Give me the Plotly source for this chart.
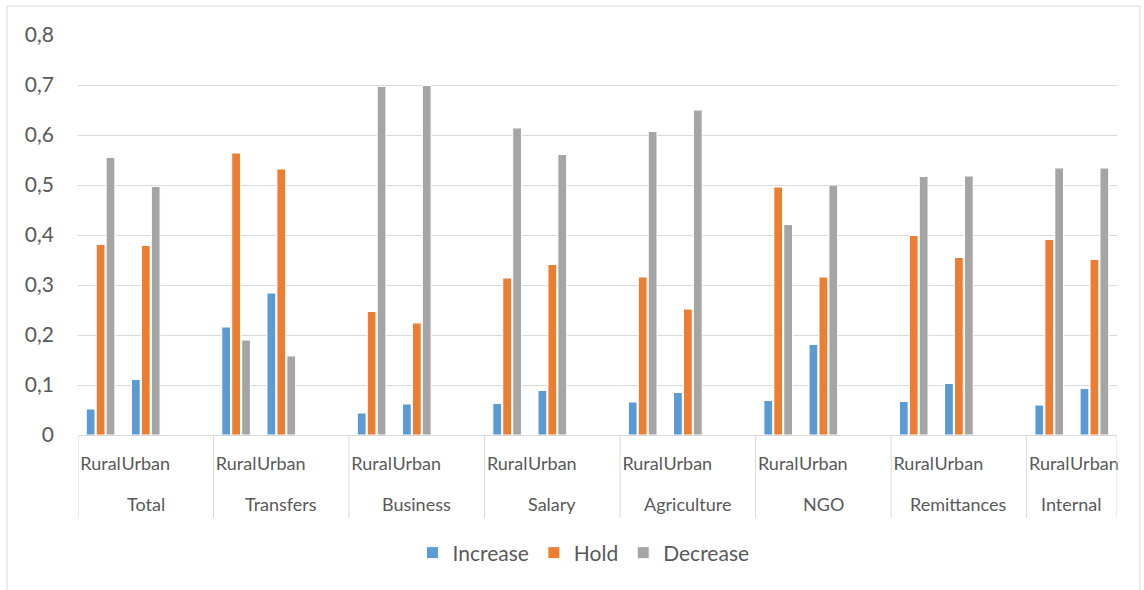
import plotly.graph_objects as go

# Income sources, each split into Rural / Urban
groups = ["Total", "Transfers", "Business", "Salary", "Agriculture", "NGO", "Remittances", "Internal"]
areas = ["Rural", "Urban"]

increase_rural = [0.052, 0.216, 0.044, 0.063, 0.066, 0.069, 0.067, 0.060]
increase_urban = [0.111, 0.284, 0.062, 0.089, 0.085, 0.181, 0.103, 0.093]
hold_rural = [0.381, 0.564, 0.247, 0.314, 0.316, 0.496, 0.399, 0.391]
hold_urban = [0.379, 0.532, 0.224, 0.341, 0.252, 0.316, 0.355, 0.351]
decrease_rural = [0.555, 0.190, 0.697, 0.614, 0.607, 0.421, 0.517, 0.534]
decrease_urban = [0.497, 0.158, 0.699, 0.561, 0.650, 0.500, 0.518, 0.534]

series = [
    ("Increase", increase_rural, increase_urban, "#5B9BD5"),
    ("Hold", hold_rural, hold_urban, "#ED7D31"),
    ("Decrease", decrease_rural, decrease_urban, "#A5A5A5"),
]

# Category slots: Rural, Urban and an empty spacer after every group but the last
cats, tick_text, group_span = [], [], []
for i, g in enumerate(groups):
    start = len(cats)
    slots = areas + (["gap"] if i < len(groups) - 1 else [])
    for s in slots:
        cats.append(f"{g}|{s}")
        tick_text.append(s if s != "gap" else "")
    group_span.append((start - 0.5, len(cats) - 0.5))


def build(rural, urban):
    ys = []
    for i in range(len(groups)):
        ys += [rural[i], urban[i]]
        if i < len(groups) - 1:
            ys.append(None)
    return ys


font_family = "Lato, 'Open Sans', sans-serif"
text_color = "#595959"
rule_color = "#d9d9d9"

fig = go.Figure()
for name, r, u, color in series:
    fig.add_trace(go.Bar(
        name=name,
        x=cats,
        y=build(r, u),
        marker=dict(color=color, line=dict(color="white", width=1)),
    ))

# Group names under the Rural/Urban row, with dividers between groups
annotations = []
shapes = []
for g, (a, b) in zip(groups, group_span):
    annotations.append(dict(
        x=(a + b) / 2, xref="x", y=-0.1725, yref="paper",
        text=g, showarrow=False, xanchor="center", yanchor="middle",
        font=dict(size=18, color=text_color, family=font_family),
    ))
edges = sorted({e for span in group_span for e in span})
for e in edges:
    shapes.append(dict(
        type="line", xref="x", yref="paper",
        x0=e, x1=e, y0=0, y1=-0.2075,
        line=dict(color=rule_color, width=1),
    ))

# Light frame around the whole chart
shapes.append(dict(
    type="rect", xref="paper", yref="paper",
    x0=-0.0683, x1=1.022, y0=-0.42, y1=1.0725,
    line=dict(color=rule_color, width=1),
    fillcolor="rgba(0,0,0,0)",
    layer="below",
))

fig.update_layout(
    width=1144,
    height=590,
    paper_bgcolor="white",
    plot_bgcolor="white",
    separators=", ",
    barmode="group",
    bargap=0.34,
    bargroupgap=0.12,
    margin=dict(l=78, r=27, t=35, b=155),
    font=dict(family=font_family, color=text_color, size=18),
    showlegend=True,
    legend=dict(
        orientation="h",
        x=0.4865, xanchor="center",
        y=-0.295, yanchor="middle",
        font=dict(size=21, color=text_color),
        itemwidth=30,
    ),
    xaxis=dict(
        type="category",
        categoryorder="array",
        categoryarray=cats,
        tickvals=cats,
        ticktext=tick_text,
        range=[-0.5, len(cats) - 0.5],
        showgrid=False,
        showline=True,
        linecolor=rule_color,
        linewidth=1,
        ticks="",
        tickangle=0,
        ticklabelstandoff=12,
        tickfont=dict(size=18, color=text_color),
    ),
    yaxis=dict(
        range=[0, 0.8],
        dtick=0.1,
        showgrid=True,
        gridcolor=rule_color,
        gridwidth=1,
        zeroline=False,
        showline=False,
        ticks="",
        ticklabelstandoff=23,
        tickfont=dict(size=21, color=text_color),
    ),
    annotations=annotations,
    shapes=shapes,
)

fig.write_html("out.html")
